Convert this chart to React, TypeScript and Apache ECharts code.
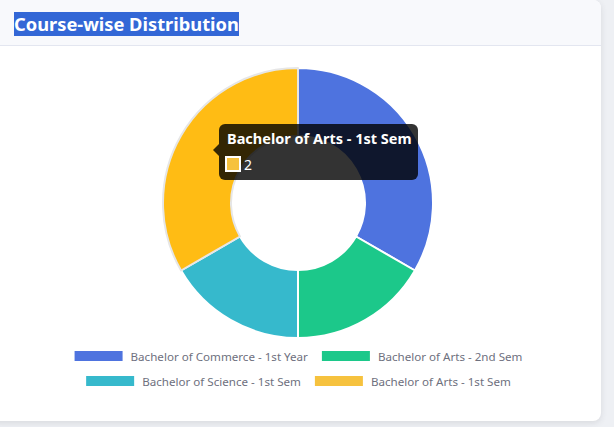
import React, { useEffect, useRef } from "react";
import * as echarts from "echarts";

const headerTitle = "Course-wise Distribution";
const categories = [
  "Bachelor of Commerce - 1st Year",
  "Bachelor of Arts - 2nd Sem",
  "Bachelor of Science - 1st Sem",
  "Bachelor of Arts - 1st Sem",
];
const values = [2, 1, 1, 2];
const colors = ["#4e73df", "#1cc88a", "#36b9cc", "#f6c23e"];
const hoverColors = ["#3a63e0", "#0fd08a", "#27c2d8", "#ffbc14"];
const activeIndex = 3;

const FONT = "'Noto Sans', 'Open Sans', sans-serif";

export default function App() {
  const ref = useRef<HTMLDivElement>(null);

  useEffect(() => {
    if (!ref.current) return;
    const chart = echarts.init(ref.current, undefined, { renderer: "svg" });

    const data = categories.map((name, i) => ({
      name,
      value: values[i],
      itemStyle:
        i === activeIndex
          ? { color: hoverColors[i], borderColor: "#e6e6e6", borderWidth: 2 }
          : { color: colors[i], borderColor: "#ffffff", borderWidth: 2 },
    }));

    const legendItem = (i: number) => ({
      name: categories[i],
      itemStyle: { color: colors[i], borderWidth: 0 },
    });

    const legendCommon = {
      orient: "horizontal" as const,
      left: "center",
      itemWidth: 48,
      itemHeight: 10,
      itemGap: 14,
      icon: "rect",
      selectedMode: false,
      itemStyle: { borderWidth: 0 },
      textStyle: { color: "#6e707e", fontSize: 11.6, fontFamily: FONT, padding: [0, 0, 0, 3] },
    };

    const Z = 100;

    chart.setOption({
      animation: false,
      legend: [
        { ...legendCommon, top: 345, data: [legendItem(0), legendItem(1)] },
        { ...legendCommon, top: 370, data: [legendItem(2), legendItem(3)] },
      ],
      series: [
        {
          type: "pie",
          center: [298, 203],
          radius: [67, 135],
          startAngle: 90,
          clockwise: true,
          avoidLabelOverlap: false,
          label: { show: false },
          labelLine: { show: false },
          emphasis: { disabled: true },
          z: 2,
          data,
        },
      ],
      graphic: [
        {
          type: "group",
          x: 219,
          y: 124,
          z: Z,
          children: [
            {
              type: "rect",
              z: Z,
              shape: { x: 0, y: 0, width: 199, height: 56, r: 6 },
              style: { fill: "rgba(0,0,0,0.8)" },
            },
            {
              type: "polygon",
              z: Z,
              shape: { points: [[0, 20], [-6, 26], [0, 32]] },
              style: { fill: "rgba(0,0,0,0.8)" },
            },
            {
              type: "text",
              z: Z + 1,
              x: 8,
              y: 14,
              style: {
                text: categories[activeIndex],
                fill: "#ffffff",
                font: `bold 14.5px ${FONT}`,
                textVerticalAlign: "middle",
              },
            },
            {
              type: "rect",
              z: Z + 1,
              shape: { x: 7, y: 33, width: 14, height: 14 },
              style: { fill: colors[activeIndex], stroke: "#ffffff", lineWidth: 2 },
            },
            {
              type: "text",
              z: Z + 1,
              x: 25,
              y: 40,
              style: {
                text: String(values[activeIndex]),
                fill: "#ffffff",
                font: `14px ${FONT}`,
                textVerticalAlign: "middle",
              },
            },
          ],
        },
      ],
    });

    return () => chart.dispose();
  }, []);

  return (
    <div
      style={{
        position: "fixed",
        left: 0,
        top: 0,
        width: 614,
        height: 427,
        background: "#eef0f4",
        overflow: "hidden",
        fontFamily: FONT,
      }}
    >
      <div
        style={{
          position: "absolute",
          left: -12,
          top: 0,
          width: 613,
          height: 421,
          background: "#ffffff",
          borderRadius: 8,
          boxShadow: "0 2px 6px rgba(58,59,69,0.12)",
          overflow: "hidden",
        }}
      >
        <div
          style={{
            height: 46,
            background: "#f8f9fc",
            borderBottom: "1px solid #e3e6f0",
            boxSizing: "border-box",
            position: "relative",
          }}
        >
          <span
            style={{
              position: "absolute",
              left: 26,
              top: 12,
              height: 24,
              lineHeight: "24px",
              fontSize: 18.3,
              fontWeight: 700,
              color: "#ffffff",
              background: "#3367d6",
              whiteSpace: "nowrap",
            }}
          >
            {headerTitle}
          </span>
        </div>
      </div>
      <div
        ref={ref}
        style={{ position: "absolute", left: 0, top: 0, width: 597, height: 427 }}
      />
    </div>
  );
}
